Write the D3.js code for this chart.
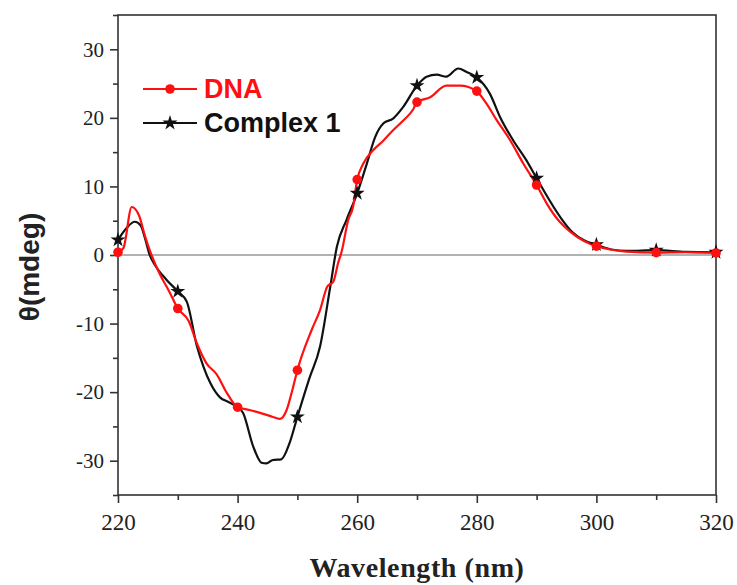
<!DOCTYPE html>
<html>
<head>
<meta charset="utf-8">
<script src="https://cdn.jsdelivr.net/npm/d3@7"></script>
<style>
  body { margin: 0; background: #fff; }
  svg { display: block; }
</style>
</head>
<body>
<div id="chart"></div>
<script>
// CD spectra
let dnaWl = [220, 220.9, 222.3, 223.5, 224.5, 225.6, 227, 228.5, 230, 231.8, 233.2, 234.8, 236.5, 238.2, 240,
  242, 244, 245.5, 246.2, 247.1, 248.2, 249.3, 250, 252.4, 253.8, 255, 256, 256.8, 257.4, 258.5, 259.3, 260,
  261, 262.7, 264.4, 266, 267.7, 269.4, 270, 272.2, 274.9, 277.2, 278.6, 280, 281.6, 283.3, 285.6,
  287.8, 290, 291.7, 293.9, 295.6, 298, 300, 302.3, 305, 310, 315, 320];
let dnaVal = [0.4, 1.0, 7.0, 5.8, 2.8, 0, -2.8, -5.2, -7.8, -9.6, -12.9, -15.8, -17.4, -20.1, -22.2,
  -22.6, -23.1, -23.5, -23.7, -23.9, -22.6, -19.2, -16.8, -10.9, -8, -4.6, -3.9, -1.2, 0.5, 5.1, 7, 11,
  13.3, 15.3, 16.7, 18.2, 19.6, 21.3, 22.3, 23, 24.7, 24.7, 24.5, 23.9, 22.1, 19.7, 16.7,
  13.3, 10.2, 7.5, 4.8, 3.4, 2, 1.3, 0.8, 0.5, 0.35, 0.4, 0.3];

let cplxWl = [220, 221.4, 222.8, 223.8, 224.5, 225.3, 226.2, 228.1, 230, 231.5, 233.2, 234.3, 235.4, 237.1,
  238.4, 239.8, 240.9, 242.6, 244, 244.8, 245.9, 247.3, 248.7, 250, 252, 253.8, 255.5, 256.6, 258.2,
  260, 261.6, 263, 264.4, 266, 267.7, 270, 271.6, 273.3, 274.9, 276.9, 278.3, 280, 282.2, 283.9,
  286.1, 288.3, 290, 293.9, 296, 298, 300, 302.5, 305, 310, 315, 320];
let cplxVal = [2.2, 3.9, 4.85, 4.3, 2.5, 0, -1.5, -3.6, -5.3, -6.8, -13.3, -16.3, -18.6, -20.8,
  -21.4, -22.1, -23, -27.9, -30.3, -30.4, -29.9, -29.8, -27.4, -23.6, -18, -13.3, -4.6, 1.2, 5.1,
  9, 13.3, 17.2, 19.2, 19.9, 21.6, 24.7, 26, 26.3, 26, 27.2, 26.7, 25.9, 23.5, 20.1,
  16.7, 13.8, 11.2, 5.6, 3.3, 2.1, 1.5, 0.8, 0.6, 0.7, 0.45, 0.4];

let seriesNames = ["DNA", "Complex 1"];
let seriesColors = ["#ff1010", "#111111"];
let xTicks = [220, 240, 260, 280, 300, 320];
let yTicks = [-30, -20, -10, 0, 10, 20, 30];

let w = 737;
let h = 585;
let padLeft = 118, padRight = 716, padTop = 15, padBottom = 495;
let serif = "'Liberation Serif', 'Times New Roman', serif";
let sans = "'Liberation Sans', Arial, sans-serif";

let svg = d3.select("#chart").append("svg")
  .attr("width", w)
  .attr("height", h);

let x = d3.scaleLinear().domain([220, 320]).range([padLeft, padRight]);
let y = d3.scaleLinear().domain([-35, 35]).range([padBottom, padTop]);

function toPoints(wl, val) {
  let pts = [];
  for (let i = 0; i < wl.length; i++) pts.push({ wl: wl[i], v: val[i] });
  return pts;
}
let series = [toPoints(dnaWl, dnaVal), toPoints(cplxWl, cplxVal)];

// plain hyphen for negatives, like the original
function fmt(d) { return String(d); }

// zero line
svg.append("line")
  .attr("x1", x(220)).attr("x2", x(320))
  .attr("y1", y(0)).attr("y2", y(0))
  .attr("stroke", "#999").attr("stroke-width", 1.6);

// frame
svg.append("rect")
  .attr("x", padLeft).attr("y", padTop)
  .attr("width", padRight - padLeft).attr("height", padBottom - padTop)
  .attr("fill", "none").attr("stroke", "#333").attr("stroke-width", 1.6);

// x axis, major + minor ticks
let xAxis = svg.append("g").attr("transform", "translate(0," + padBottom + ")");
xAxis.append("g").call(d3.axisBottom(x).tickValues(d3.range(230, 320, 20)).tickSize(5).tickFormat(""));
xAxis.append("g").call(d3.axisBottom(x).tickValues(xTicks).tickSize(8).tickPadding(10).tickFormat(fmt));
xAxis.selectAll(".domain").remove();
xAxis.selectAll("g").attr("font-family", serif).attr("font-size", 23);
xAxis.selectAll("line").attr("stroke", "#333").attr("stroke-width", 1.6);
xAxis.selectAll("text")
  .style("font-family", serif)
  .style("font-size", "23px").attr("fill", "#222").attr("dy", "0.75em");

let yAxis = svg.append("g").attr("transform", "translate(" + padLeft + ",0)");
yAxis.append("g").call(d3.axisLeft(y).tickValues(d3.range(-35, 36, 10)).tickSize(5).tickFormat(""));
yAxis.append("g").call(d3.axisLeft(y).tickValues(yTicks).tickSize(8).tickPadding(6).tickFormat(fmt));
yAxis.selectAll(".domain").remove();
yAxis.selectAll("g").attr("font-family", serif).attr("font-size", 21);
yAxis.selectAll("line").attr("stroke", "#333").attr("stroke-width", 1.6);
yAxis.selectAll("text")
  .style("font-family", serif)
  .style("font-size", "21px").attr("fill", "#222");

// curves
let line = d3.line()
  .x(function(d) { return x(d.wl); })
  .y(function(d) { return y(d.v); })
  .curve(d3.curveMonotoneX);

// black behind red, as in the picture
let order = [1, 0];
order.forEach(function(k) {
  svg.append("path")
    .datum(series[k])
    .attr("d", line)
    .attr("fill", "none")
    .attr("stroke", seriesColors[k])
    .attr("stroke-width", 2.2)
    .attr("stroke-linejoin", "round");
});

function drawMarker(g, k, cx, cy) {
  if (k === 0) {
    g.append("circle").attr("cx", cx).attr("cy", cy).attr("r", 4.8)
      .attr("fill", seriesColors[0]);
  } else {
    g.append("path")
      .attr("d", d3.symbol().type(d3.symbolStar).size(70)())
      .attr("transform", "translate(" + cx + "," + cy + ")")
      .attr("fill", seriesColors[1]);
  }
}

order.forEach(function(k) {
  let g = svg.append("g");
  series[k].filter(function(d) { return d.wl % 10 === 0; }).forEach(function(d) {
    drawMarker(g, k, x(d.wl), y(d.v));
  });
});

// legend
let legend = svg.append("g");
seriesNames.forEach(function(name, i) {
  let ly = 89 + i * 34;
  legend.append("line")
    .attr("x1", 143).attr("x2", 197).attr("y1", ly).attr("y2", ly)
    .attr("stroke", seriesColors[i]).attr("stroke-width", 2.2);
  drawMarker(legend, i, 170, ly);
  legend.append("text")
    .attr("x", 204).attr("y", ly + 9)
    .attr("font-family", sans)
    .attr("font-weight", "bold").attr("font-size", 27)
    .attr("fill", seriesColors[i])
    .text(name);
});

// axis titles
svg.append("text")
  .attr("x", (padLeft + padRight) / 2).attr("y", 577)
  .attr("text-anchor", "middle")
  .attr("font-family", serif)
  .attr("font-weight", "bold").attr("font-size", 28)
  .attr("letter-spacing", 0.6)
  .attr("fill", "#222")
  .text("Wavelength (nm)");

svg.append("text")
  .attr("transform", "translate(39," + 267 + ") rotate(-90)")
  .attr("text-anchor", "middle")
  .attr("font-family", sans)
  .attr("font-weight", "bold").attr("font-size", 28)
  .attr("fill", "#222")
  .text("θ(mdeg)");
</script>
</body>
</html>
